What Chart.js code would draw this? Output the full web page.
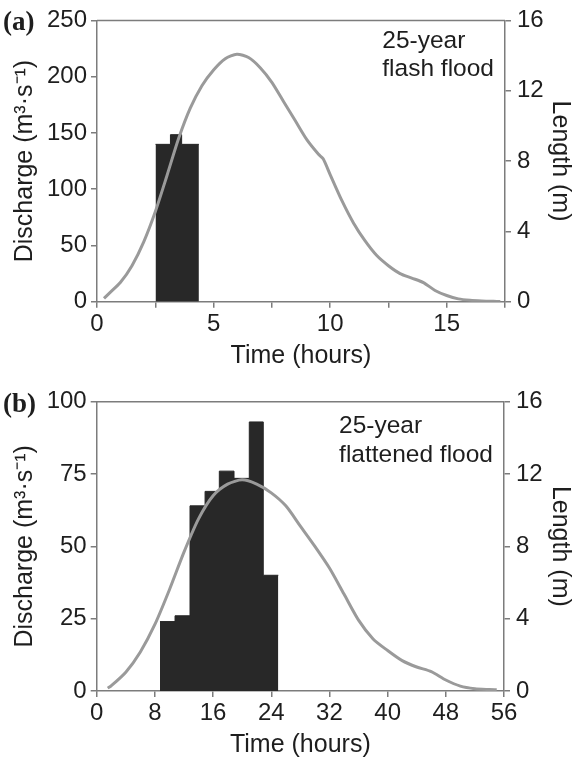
<!DOCTYPE html>
<html>
<head>
<meta charset="utf-8">
<script src="https://cdn.jsdelivr.net/npm/chart.js@4.4.1/dist/chart.umd.min.js"></script>
<style>
  html, body { margin: 0; padding: 0; background: #fff; overflow: hidden; }
  canvas { display: block; }
</style>
</head>
<body>
<canvas id="chartA" width="575" height="379"></canvas>
<canvas id="chartB" width="575" height="379"></canvas>
<script>
// (a) 25-year flash flood: hydrograph (hours, m3/s) and lengths (m)
const timeA = [0.3, 0.5, 1, 1.5, 2, 2.5, 3, 3.5, 4, 4.5, 5, 5.5, 6, 6.5, 7, 7.5, 8, 8.5, 9, 9.5, 9.7,
  10, 10.5, 11, 11.5, 12, 12.5, 13, 13.5, 14, 14.5, 15, 15.5, 16, 16.5, 17, 17.3];
const dischargeA = [3, 7, 17, 32, 53, 80, 112, 145, 172, 192, 206, 216, 220, 217, 208, 195, 178, 161, 144, 131, 127,
  113, 90, 70, 54, 41, 32, 25, 21, 17, 10, 5.5, 2.5, 1.2, 0.6, 0.3, 0.2];
const barEdgesA = [2.51, 3.15, 3.63, 4.37];
const lengthA = [8.95, 9.5, 8.95];

// (b) 25-year flattened flood
const timeB = [1.5, 2, 4, 6, 8, 10, 12, 14, 16, 18, 20, 22, 24, 26, 28, 30, 32, 34, 36, 38, 40,
  42, 44, 46, 48, 50, 52, 54, 55];
const dischargeB = [1, 1.8, 6.5, 13.5, 23, 35, 48, 59.5, 67.5, 71.5, 73, 71.5, 68.5, 64, 57, 50, 42.5, 33.5, 24.5, 18, 14,
  10.5, 8.3, 6.7, 3.8, 1.7, 0.8, 0.5, 0.4];
const barEdgesB = [8.7, 10.77, 12.83, 14.9, 16.86, 18.88, 20.98, 22.9, 24.97];
const lengthB = [3.84, 4.16, 10.24, 11.04, 12.16, 11.76, 14.88, 6.4];

const axisColor = "#7c7c7c";
const textColor = "#1e1e1e";
const sans = "'Liberation Sans', Arial, sans-serif";

// draws top frame line, panel letter and the note text
const panelText = {
    id: "panelText",
    afterDraw(chart, args, opts) {
        const { ctx, chartArea: a } = chart;
        ctx.save();
        ctx.strokeStyle = axisColor;
        ctx.lineWidth = 1.5;
        ctx.beginPath();
        ctx.moveTo(a.left, a.top);
        ctx.lineTo(a.right, a.top);
        ctx.stroke();

        ctx.fillStyle = textColor;
        ctx.font = "bold 27px 'Liberation Serif', serif";
        ctx.textAlign = "left";
        ctx.textBaseline = "middle";
        ctx.fillText(opts.letter, 3, a.top + 3);

        ctx.font = "24.5px " + sans;
        ctx.textBaseline = "alphabetic";
        const w = Math.max(...opts.note.map(t => ctx.measureText(t).width));
        opts.note.forEach((t, i) => {
            ctx.fillText(t, a.right - 11 - w, a.top + opts.noteTop + i * 28.5);
        });
        ctx.restore();
    }
};

function steps(edges, heights) {
    const pts = heights.map((h, i) => ({ x: edges[i], y: h }));
    pts.push({ x: edges[edges.length - 1], y: heights[heights.length - 1] });
    return pts;
}

function makePanel(id, cfg) {
    const tickFont = { family: sans, size: 24 };
    const titleFont = { family: sans, size: 25, lineHeight: 1 };
    const grid = { display: true, drawOnChartArea: false, drawTicks: true, tickLength: 6, color: axisColor, lineWidth: 1.5 };
    const border = { display: true, color: axisColor, width: 1.5 };

    return new Chart(document.getElementById(id), {
        type: "line",
        data: {
            datasets: [
                {
                    label: "Discharge",
                    data: cfg.time.map((t, i) => ({ x: t, y: cfg.discharge[i] })),
                    yAxisID: "y",
                    borderColor: "#9a9a9a",
                    borderWidth: 3,
                    tension: 0.25,
                    pointRadius: 0,
                    fill: false,
                    order: 0
                },
                {
                    label: "Length",
                    data: steps(cfg.edges, cfg.lengths),
                    yAxisID: "y1",
                    stepped: true,
                    borderColor: "#262626",
                    borderWidth: 1,
                    backgroundColor: "#282828",
                    pointRadius: 0,
                    fill: "origin",
                    order: 1
                }
            ]
        },
        options: {
            responsive: false,
            animation: false,
            layout: { padding: { top: cfg.padTop, bottom: cfg.padBottom, left: 0, right: 0 } },
            plugins: {
                legend: { display: false },
                tooltip: { enabled: false },
                panelText: { letter: cfg.letter, note: cfg.note, noteTop: cfg.noteTop }
            },
            scales: {
                x: {
                    type: "linear",
                    min: 0,
                    max: cfg.xMax,
                    grid: grid,
                    border: border,
                    ticks: {
                        stepSize: cfg.xStep,
                        font: tickFont,
                        color: textColor,
                        padding: 2,
                        maxRotation: 0,
                        autoSkip: false,
                        callback: v => (v % cfg.xLabelEvery === 0 ? v : "")
                    },
                    title: { display: true, text: "Time (hours)", font: titleFont, color: textColor, padding: { top: 0, bottom: 0 } },
                    afterFit: s => { s.height = 67; }
                },
                y: {
                    position: "left",
                    min: 0,
                    max: cfg.qMax,
                    grid: grid,
                    border: border,
                    ticks: { stepSize: cfg.qStep, font: tickFont, color: textColor, padding: 4 },
                    title: { display: true, text: "Discharge (m³·s⁻¹)", font: titleFont, color: textColor, padding: { top: 13, bottom: 0 } },
                    afterFit: s => { s.width = cfg.left; }
                },
                y1: {
                    position: "right",
                    min: 0,
                    max: 16,
                    grid: grid,
                    border: border,
                    ticks: { stepSize: 4, font: tickFont, color: textColor, padding: 6 },
                    title: { display: true, text: "Length (m)", font: titleFont, color: textColor, padding: { top: 3, bottom: 0 } },
                    afterFit: s => { s.width = 575 - cfg.right; }
                }
            }
        },
        plugins: [panelText]
    });
}

makePanel("chartA", {
    time: timeA, discharge: dischargeA, edges: barEdgesA, lengths: lengthA,
    xMax: 17.5, xStep: 2.5, xLabelEvery: 5, qMax: 250, qStep: 50,
    left: 97, right: 505, padTop: 16, padBottom: 379 - 301.7 - 67,
    letter: "(a)", note: ["25-year", "flash flood"], noteTop: 27.5
});

makePanel("chartB", {
    time: timeB, discharge: dischargeB, edges: barEdgesB, lengths: lengthB,
    xMax: 56, xStep: 8, xLabelEvery: 8, qMax: 100, qStep: 25,
    left: 96.7, right: 504, padTop: 22.7, padBottom: 0,
    letter: "(b)", note: ["25-year", "flattened flood"], noteTop: 31.5
});
</script>
</body>
</html>
